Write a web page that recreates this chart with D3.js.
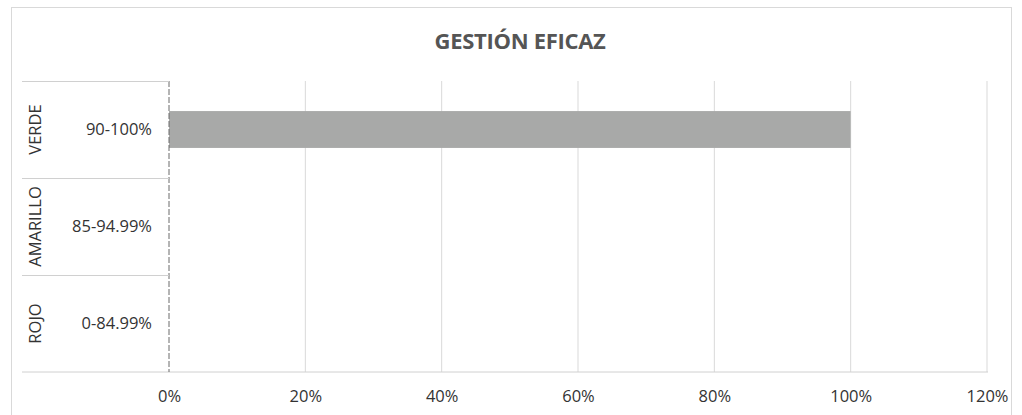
<!DOCTYPE html>
<html>
<head>
<meta charset="utf-8">
<script src="https://d3js.org/d3.v7.min.js"></script>
<style>
  body { margin: 0; background: #fff; }
  text { font-family: "Open Sans", "DejaVu Sans", sans-serif; }
</style>
</head>
<body>
<div id="chart"></div>
<script>
// data
var titulo = "GESTIÓN EFICAZ";
var grupos = ["VERDE", "AMARILLO", "ROJO"];
var rangos = ["90-100%", "85-94.99%", "0-84.99%"];
var valores = [1.0, 0, 0];
var ticksX = [0, 0.2, 0.4, 0.6, 0.8, 1.0, 1.2];

var W = 1022, H = 415;
var svg = d3.select("#chart").append("svg")
    .attr("width", W)
    .attr("height", H);

// chart frame (bottom edge falls outside the scan)
svg.append("rect")
    .attr("x", 11.5).attr("y", 7.5)
    .attr("width", 1000).attr("height", 420)
    .attr("fill", "none")
    .attr("stroke", "#d9d9d9");

var x = d3.scaleLinear().domain([0, 1.2]).range([169, 987]);
var y = d3.scaleBand().domain(rangos).range([81, 372])
    .paddingInner(0.62).paddingOuter(0.31);

// title
svg.append("text")
    .attr("x", 520).attr("y", 49)
    .attr("text-anchor", "middle")
    .style("font-size", "22px")
    .style("font-weight", "bold")
    .style("letter-spacing", "-0.3px")
    .attr("fill", "#555555")
    .text(titulo);

// vertical gridlines
svg.append("g").selectAll("line")
    .data(ticksX.slice(1))
    .join("line")
    .attr("x1", d => x(d)).attr("x2", d => x(d))
    .attr("y1", 81).attr("y2", 372)
    .attr("stroke", "#d9d9d9")
    .attr("stroke-width", 1);

// bars
svg.append("g").selectAll("rect")
    .data(valores)
    .join("rect")
    .attr("x", x(0))
    .attr("y", (d, i) => y(rangos[i]))
    .attr("width", d => x(d) - x(0))
    .attr("height", y.bandwidth())
    .attr("fill", "#a8a9a8");

// x axis
var xAxis = svg.append("g")
    .attr("transform", "translate(0,372)")
    .call(d3.axisBottom(x).tickValues(ticksX).tickFormat(d3.format(".0%")).tickSize(0).tickPadding(18));
xAxis.select(".domain").remove();
xAxis.selectAll("text")
    .style("font-size", "16.5px")
    .attr("fill", "#333333");

svg.append("line")
    .attr("x1", 22).attr("x2", 988)
    .attr("y1", 372).attr("y2", 372)
    .attr("stroke", "#d0d0d0");

// category axis line (0%)
svg.append("line")
    .attr("x1", x(0)).attr("x2", x(0))
    .attr("y1", 81).attr("y2", 372)
    .attr("stroke", "#6b6b6b")
    .attr("stroke-dasharray", "6,2");

// multi-level category labels
var cat = svg.append("g");
var step = y.step();
var top0 = 81;

cat.selectAll("line.sep")
    .data(d3.range(grupos.length))
    .join("line")
    .attr("class", "sep")
    .attr("x1", 22).attr("x2", x(0))
    .attr("y1", i => top0 + i * step + 0.5)
    .attr("y2", i => top0 + i * step + 0.5)
    .attr("stroke", "#d0d0d0");

cat.selectAll("text.rango")
    .data(rangos)
    .join("text")
    .attr("class", "rango")
    .attr("x", 152)
    .attr("y", d => y(d) + y.bandwidth() / 2)
    .attr("dy", "0.35em")
    .attr("text-anchor", "end")
    .style("font-size", "16.5px")
    .attr("fill", "#333333")
    .text(d => d);

cat.selectAll("text.grupo")
    .data(grupos)
    .join("text")
    .attr("class", "grupo")
    .attr("transform", (d, i) => "translate(35," + (top0 + (i + 0.5) * step) + ") rotate(-90)")
    .attr("dy", "0.35em")
    .attr("text-anchor", "middle")
    .style("font-size", "16.5px")
    .attr("fill", "#333333")
    .text(d => d);
</script>
</body>
</html>
